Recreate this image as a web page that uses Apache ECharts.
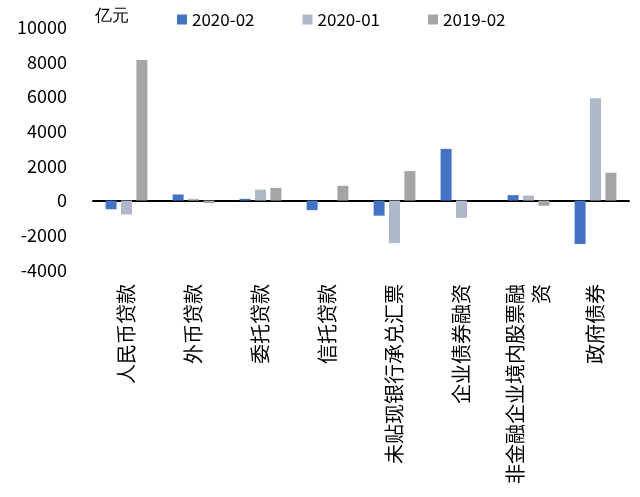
<!DOCTYPE html>
<html>
<head>
<meta charset="UTF-8">
<script src="https://cdn.jsdelivr.net/npm/echarts/dist/echarts.min.js"></script>
<style>html,body{margin:0;padding:0;background:#fff}#main{width:640px;height:497px}</style>
</head>
<body>
<div id="main"></div>
<script>
    // 数据
    let categories = ['人民币贷款', '外币贷款', '委托贷款', '信托贷款', '未贴现银行承兑汇票', '企业债券融资', '非金融企业境内股票融\n资', '政府债券'];
    let s202002 = [-500, 350, 100, -550, -870, 2980, 310, -2500];
    let s202001 = [-800, 100, 630, 0, -2450, -1000, 290, 5900];
    let s201902 = [8100, -150, 730, 850, 1700, 0, -300, 1600];
    let yTicks = [-4000, 10000, 2000];

    let font = '"Noto Sans CJK SC", "Liberation Sans", sans-serif';
    let chart = echarts.init(document.getElementById('main'));
    chart.setOption({
        animation: false,
        color: ['#4472C4', '#ADB9CA', '#A5A5A5'],
        legend: {
            top: 6, left: 172, itemGap: 48, itemWidth: 10, itemHeight: 10, icon: 'rect',
            textStyle: { fontSize: 17, color: '#000', fontFamily: font },
            data: ['2020-02', '2020-01', '2019-02']
        },
        graphic: [{ type: 'text', left: 95, top: 8, style: { text: '亿元', fontSize: 17, fill: '#000', font: '17px ' + font } }],
        grid: { left: 93, right: 11, top: 27, bottom: 227, outerBoundsMode: 'none', containLabel: false },
        xAxis: {
            type: 'category', data: categories,
            axisLine: { lineStyle: { color: '#000', width: 2 } },
            axisTick: { length: 6, lineStyle: { color: '#000', width: 2 } },
            axisLabel: { rotate: 90, margin: 14, fontSize: 20, color: '#000', fontFamily: font, interval: 0, lineHeight: 26 }
        },
        yAxis: {
            type: 'value', min: yTicks[0], max: yTicks[1], interval: yTicks[2],
            splitLine: { show: false }, axisLine: { show: false }, axisTick: { show: false },
            axisLabel: { fontSize: 18, color: '#000', fontFamily: font, margin: 26, formatter: v => String(v) }
        },
        series: [
            { name: '2020-02', type: 'bar', data: s202002, barWidth: 11, barGap: '40%' },
            { name: '2020-01', type: 'bar', data: s202001, barWidth: 11, barGap: '40%' },
            { name: '2019-02', type: 'bar', data: s201902, barWidth: 11, barGap: '40%' }
        ]
    });
</script>
</body>
</html>
